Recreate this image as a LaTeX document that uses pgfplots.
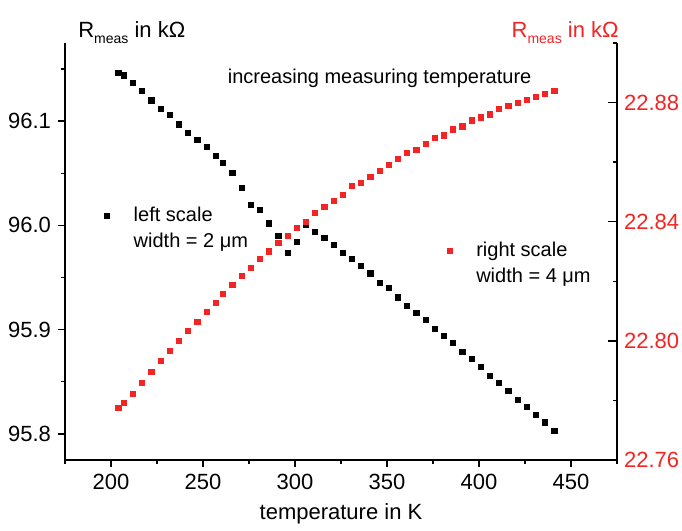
\documentclass[border=0pt]{standalone}
\usepackage{pgfplots}
\pgfplotsset{compat=1.18}
\usepackage{pgfplotstable}
\usepackage{fontspec}
\setmainfont{Liberation Sans}
\definecolor{myred}{RGB}{245,36,36}

\pgfplotstableread{
T     R
204   96.146
207   96.144
212   96.137
217   96.129
222   96.120
227   96.112
232   96.106
237   96.097
242   96.089
247   96.082
252   96.075
257   96.067
261   96.060
266   96.050
271   96.036
276   96.020
281   96.015
286   96.002
291   95.990
296   95.974
301   95.984
306   96.001
311   95.994
316   95.988
321   95.981
326   95.974
331   95.968
336   95.961
341   95.954
346   95.945
351   95.940
356   95.931
361   95.923
366   95.916
371   95.909
376   95.901
381   95.894
386   95.887
391   95.879
396   95.872
401   95.864
406   95.856
411   95.849
416   95.841
421   95.833
426   95.826
431   95.818
436   95.811
441   95.803
}\leftdata

\pgfplotstableread{
T     R
204   22.7775
207   22.7792
212   22.7822
217   22.7859
222   22.7896
227   22.7933
232   22.7966
237   22.8000
242   22.8034
247   22.8064
252   22.8097
257   22.8128
261   22.8158
266   22.8188
271   22.8218
276   22.8245
281   22.8276
286   22.8300
291   22.8330
296   22.8353
301   22.8380
306   22.8400
311   22.8430
316   22.8450
321   22.8470
326   22.8490
331   22.8520
336   22.8530
341   22.8550
346   22.8570
351   22.8590
356   22.8610
361   22.8630
366   22.8640
371   22.8660
376   22.8680
381   22.8690
386   22.8710
391   22.8720
396   22.8740
401   22.8750
406   22.8760
411   22.8780
416   22.8790
421   22.8800
426   22.8810
431   22.8820
436   22.8830
441   22.8840
}\rightdata

\begin{document}
\begin{tikzpicture}[font=\fontsize{11}{13}\selectfont]
\pgfplotsset{
  every axis/.append style={
    scale only axis, width=276pt, height=208.5pt,
    xmin=175, xmax=475,
    /pgf/number format/assume math mode=true,
    axis line style={line width=0.8pt, black},
    every tick/.style={line width=0.7pt, black},
  },
  every axis legend/.append style={
    draw=none, fill=none, inner sep=0pt, outer sep=0pt,
    legend cell align=left, row sep=1pt,
    font=\fontsize{10}{12}\selectfont,
    nodes={inner xsep=3pt, inner ysep=1.5pt},
    /tikz/every odd column/.append style={column sep=9pt},
  },
}
\begin{axis}[name=ax1,
  axis x line*=bottom, axis y line*=left,
  ymin=95.775, ymax=96.175,
  ytick={95.8,95.9,96.0,96.1},
  minor ytick={95.85,95.95,96.05,96.15},
  xtick={200,250,...,450},
  minor xtick={175,225,...,475},
  tick align=outside,
  major tick length=3.5pt, minor tick length=2pt,
  yticklabel style={/pgf/number format/.cd,fixed,fixed zerofill,precision=1},
  xlabel={temperature in K},
  xlabel style={at={(axis description cs:0.5,-0.143)}, anchor=base},
  ylabel={R\raisebox{-0.5ex}{\fontsize{7}{8}\selectfont meas} in kΩ},
  every axis y label/.style={at={(axis description cs:0.121,1.012)}, anchor=base},
  legend style={at={(axis description cs:0.0454,0.613)}, anchor=north west},
]
\addplot[only marks, mark=square*, mark size=1.3pt, black, forget plot] table[x=T,y=R] {\leftdata};
\addlegendimage{only marks, mark=square*, mark size=1.3pt, black}
\addlegendentry{left scale}
\addlegendimage{empty legend}
\addlegendentry{width = 2 μm}
\node[anchor=center, font=\fontsize{10}{12}\selectfont] at (axis cs:346,96.141) {increasing measuring temperature};
\end{axis}

\begin{axis}[name=ax2,
  hide x axis,
  axis y line*=right,
  ymin=22.76, ymax=22.90,
  ytick={22.76,22.80,22.84,22.88},
  minor ytick={22.78,22.82,22.86,22.90},
  tick align=inside,
  major tick length=4.5pt, minor tick length=2.2pt,
  yticklabel style={text=myred, /pgf/number format/.cd,fixed,fixed zerofill,precision=2},
  ylabel={R\raisebox{-0.5ex}{\fontsize{7}{8}\selectfont meas} in kΩ},
  every axis y label/.style={at={(axis description cs:0.906,1.012)}, anchor=base, text=myred},
  legend style={at={(axis description cs:0.666,0.529)}, anchor=north west},
]
\addplot[only marks, mark=square*, mark size=1.3pt, myred, forget plot] table[x=T,y=R] {\rightdata};
\addlegendimage{only marks, mark=square*, mark size=1.3pt, myred}
\addlegendentry{right scale}
\addlegendimage{empty legend}
\addlegendentry{width = 4 μm}
\end{axis}

\pgfresetboundingbox
\path ([shift={(-32.5pt,-35.5pt)}]ax1.south west) rectangle ([shift={(32.5pt,21.5pt)}]ax1.north east);
\end{tikzpicture}
\end{document}
